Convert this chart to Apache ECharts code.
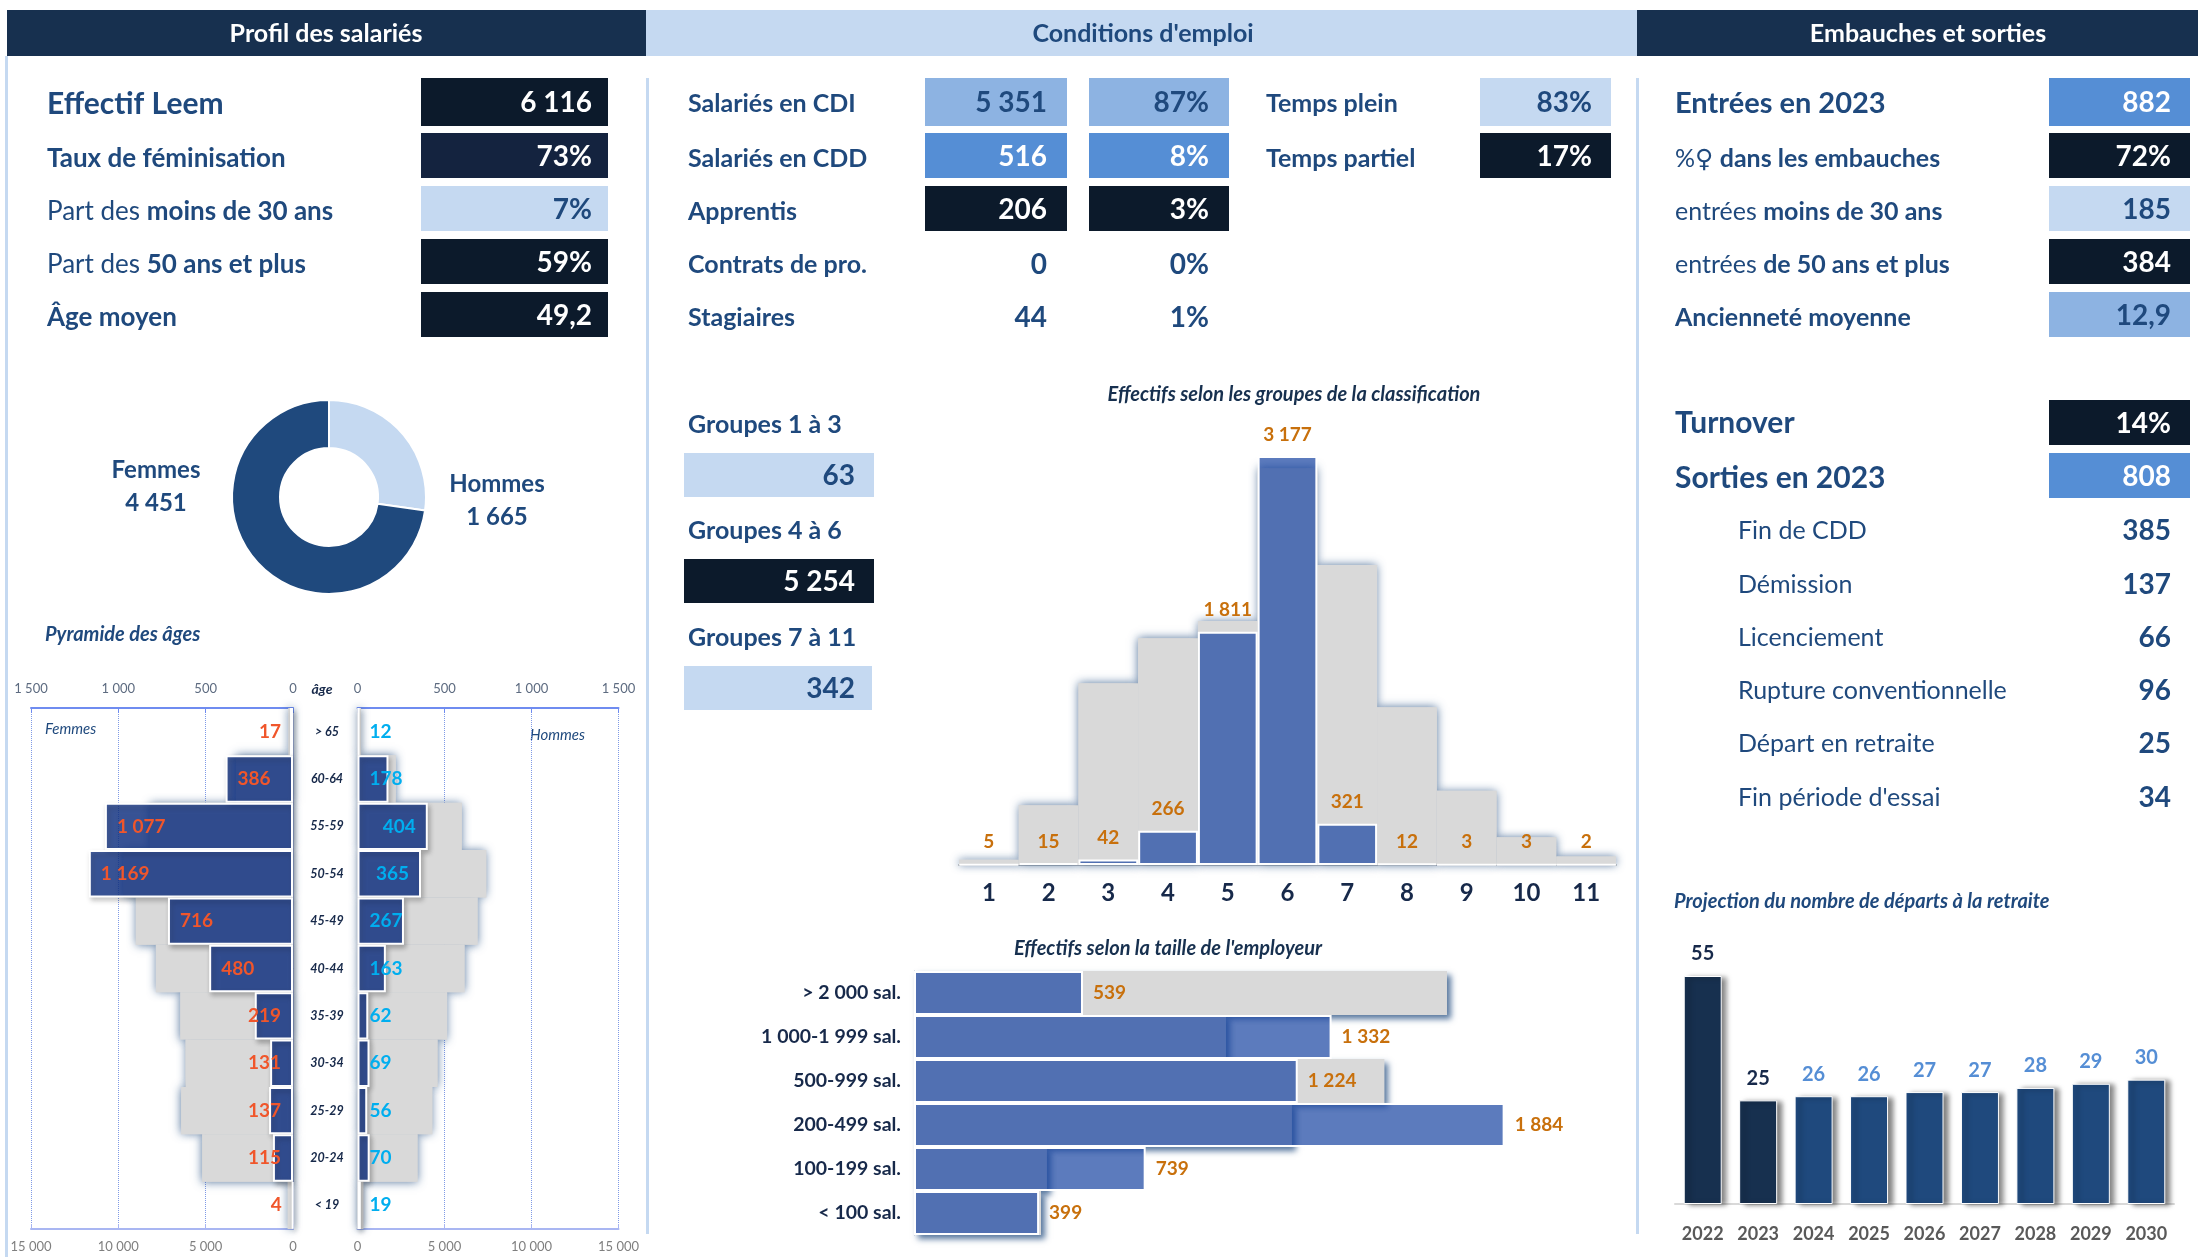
<!DOCTYPE html>
<html><head><meta charset="utf-8">
<style>html,body{margin:0;padding:0;background:#fff}#c{width:2198px;height:1257px}</style>
<script src="https://cdn.jsdelivr.net/npm/echarts@6/dist/echarts.min.js"></script>
</head><body><div id="c"></div>
<script>
// ---- data ----
const headers = ['Profil des salariés', "Conditions d'emploi", 'Embauches et sorties'];
const profilLabels = ['Effectif Leem', 'Taux de féminisation', ['Part des ', 'moins de 30 ans'], ['Part des ', '50 ans et plus'], 'Âge moyen'];
const profilValues = ['6 116', '73%', '7%', '59%', '49,2'];
const contratLabels = ['Salariés en CDI', 'Salariés en CDD', 'Apprentis', 'Contrats de pro.', 'Stagiaires'];
const contratEffectifs = ['5 351', '516', '206', '0', '44'];
const contratParts = ['87%', '8%', '3%', '0%', '1%'];
const tempsLabels = ['Temps plein', 'Temps partiel'];
const tempsValues = ['83%', '17%'];
const groupeLabels = ['Groupes 1 à 3', 'Groupes 4 à 6', 'Groupes 7 à 11'];
const groupeValues = ['63', '5 254', '342'];
const embaucheLabels = ['Entrées en 2023', ['%♀ ', 'dans les embauches'], ['entrées ', 'moins de 30 ans'], ['entrées ', 'de 50 ans et plus'], 'Ancienneté moyenne'];
const embaucheValues = ['882', '72%', '185', '384', '12,9'];
const sortieHeadLabels = ['Turnover', 'Sorties en 2023'];
const sortieHeadValues = ['14%', '808'];
const sortieLabels = ['Fin de CDD', 'Démission', 'Licenciement', 'Rupture conventionnelle', 'Départ en retraite', "Fin période d'essai"];
const sortieValues = ['385', '137', '66', '96', '25', '34'];

const sexeNames = ['Hommes', 'Femmes'];
const sexeValues = [1665, 4451];

const ages = ['> 65', '60-64', '55-59', '50-54', '45-49', '40-44', '35-39', '30-34', '25-29', '20-24', '< 19'];
const femmesLeem = [17, 386, 1077, 1169, 716, 480, 219, 131, 137, 115, 4];
const hommesLeem = [12, 178, 404, 365, 267, 163, 62, 69, 56, 70, 19];
const femmesBranche = [260, 3260, 8200, 9700, 9000, 7850, 6450, 6150, 6400, 5200, 300];
const hommesBranche = [200, 2200, 6000, 7400, 6900, 6150, 5150, 4600, 4300, 3450, 330];
const pyrTop = [0, 500, 1000, 1500];
const pyrBottom = [0, 5000, 10000, 15000];

const groupes = ['1', '2', '3', '4', '5', '6', '7', '8', '9', '10', '11'];
const groupesLeem = [5, 15, 42, 266, 1811, 3177, 321, 12, 3, 3, 2];
const groupesBranche = [380, 4380, 13340, 16630, 17900, 29110, 22000, 11570, 5440, 2030, 630];

const tailles = ['> 2 000 sal.', '1 000-1 999 sal.', '500-999 sal.', '200-499 sal.', '100-199 sal.', '< 100 sal.'];
const taillesLeem = [539, 1332, 1224, 1884, 739, 399];
const taillesBranche = [34000, 19900, 30000, 24100, 8470, 8100];

const annees = ['2022', '2023', '2024', '2025', '2026', '2027', '2028', '2029', '2030'];
const retraites = [55, 25, 26, 26, 27, 27, 28, 29, 30];

// ---- styles ----
const F = 'Lato, "DejaVu Sans", sans-serif';
const BLUE = '#1f497d', NAVY = '#17304f', INK = '#0c1a2b', MID = '#558ed5', SOFT = '#8db3e2', PALE = '#c5d9f1';
const ORANGE = '#c8700c', DARKTXT = '#17294a';
const fmt = v => String(v).replace(/\B(?=(\d{3})+(?!\d))/g, ' ');
const g = [];
const rect = (x, y, w, h, fill) => g.push({type: 'rect', silent: true, shape: {x, y, width: w, height: h}, style: {fill}});
const txt = (x, y, t, o = {}) => g.push({type: 'text', silent: true, x, y, style: Object.assign({
  text: t, fontFamily: F, fontSize: 24, fontWeight: 700, fill: BLUE, align: 'left', verticalAlign: 'middle'}, o)});
const label = (x, y, t, size) => {
  if (Array.isArray(t)) {
    txt(x, y, '{r|' + t[0] + '}{b|' + t[1] + '}', {rich: {
      r: {fontFamily: F, fontSize: size, fontWeight: 400, fill: BLUE},
      b: {fontFamily: F, fontSize: size, fontWeight: 700, fill: BLUE}}});
  } else txt(x, y, t, {fontSize: size});
};
const box = (x, y, w, h, fill, v, tc, size, rx) => {
  rect(x, y, w, h, fill);
  txt(rx, y + h / 2 + 1, v, {fill: tc, fontSize: size, align: 'right'});
};

// headers and rules
rect(7, 10, 639, 46, NAVY); rect(646, 10, 991, 46, PALE); rect(1637, 10, 561, 46, NAVY);
txt(326, 34, headers[0], {fill: '#fff', fontSize: 25, align: 'center'});
txt(1143, 34, headers[1], {fill: BLUE, fontSize: 25, align: 'center'});
txt(1928, 34, headers[2], {fill: '#fff', fontSize: 25, align: 'center'});
rect(5, 56, 3, 1201, PALE); rect(646, 78, 3, 1156, PALE); rect(1636, 78, 3, 1156, PALE);

// rows
const rowY = [78, 133, 186, 239, 292], rowH = [48, 45, 45, 45, 45];
const textY = [104, 159, 212, 265, 318];
const profilFill = [INK, '#14233f', PALE, INK, INK], profilTxt = ['#fff', '#fff', BLUE, '#fff', '#fff'];
profilLabels.forEach((t, i) => {
  label(47, textY[i], t, i === 0 ? 30 : 26);
  box(421, rowY[i], 187, rowH[i], profilFill[i], profilValues[i], profilTxt[i], 28, 592);
});
const cFill = [SOFT, MID, INK], cTxt = [BLUE, '#fff', '#fff'];
contratLabels.forEach((t, i) => {
  label(688, textY[i], t, 25);
  if (i < 3) {
    box(925, rowY[i], 142, rowH[i], cFill[i], contratEffectifs[i], cTxt[i], 28, 1047);
    box(1089, rowY[i], 140, rowH[i], cFill[i], contratParts[i], cTxt[i], 28, 1209);
  } else {
    txt(1047, textY[i], contratEffectifs[i], {fontSize: 28, align: 'right'});
    txt(1209, textY[i], contratParts[i], {fontSize: 28, align: 'right'});
  }
});
const tFill = [PALE, INK], tTxt = [BLUE, '#fff'];
tempsLabels.forEach((t, i) => {
  label(1266, textY[i], t, 25);
  box(1480, rowY[i], 131, rowH[i], tFill[i], tempsValues[i], tTxt[i], 28, 1592);
});
const grpY = [453, 559, 666], grpTextY = [425, 531, 638], gFill = [PALE, INK, PALE], gTxt = [BLUE, '#fff', BLUE];
groupeLabels.forEach((t, i) => {
  label(688, grpTextY[i], t, 25);
  box(684, grpY[i], i === 2 ? 188 : 190, 44, gFill[i], groupeValues[i], gTxt[i], 28, 855);
});
const eFill = [MID, INK, PALE, INK, SOFT], eTxt = ['#fff', '#fff', BLUE, '#fff', BLUE];
embaucheLabels.forEach((t, i) => {
  label(1675, textY[i], t, i === 0 ? 29 : 25);
  box(2049, rowY[i], 141, rowH[i], eFill[i], embaucheValues[i], eTxt[i], 28, 2171);
});
const shY = [400, 453], shT = [423, 478], shF = [INK, MID];
sortieHeadLabels.forEach((t, i) => {
  label(1675, shT[i], t, 30);
  box(2049, shY[i], 141, 45, shF[i], sortieHeadValues[i], '#fff', 28, 2171);
});
const sY = [531, 585, 638, 691, 744, 798];
sortieLabels.forEach((t, i) => {
  txt(1738, sY[i], t, {fontSize: 25, fontWeight: 400});
  txt(2171, sY[i], sortieValues[i], {fontSize: 28, align: 'right'});
});

// chart captions
const cap = {fontStyle: 'italic', fontSize: 20};
txt(45, 635, 'Pyramide des âges', cap);
txt(322, 689, 'âge', {fontStyle: 'italic', fontSize: 14, align: 'center', fill: '#17294a'});
txt(45, 729, 'Femmes', {fontStyle: 'italic', fontSize: 15, fontWeight: 400});
txt(530, 735, 'Hommes', {fontStyle: 'italic', fontSize: 15, fontWeight: 400});
txt(1294, 395, 'Effectifs selon les groupes de la classification', {fontStyle: 'italic', fontSize: 20, align: 'center', fill: NAVY});
txt(1168, 949, "Effectifs selon la taille de l'employeur", {fontStyle: 'italic', fontSize: 20, align: 'center', fill: NAVY});
txt(1674, 902, 'Projection du nombre de départs à la retraite', cap);

// ---- chart helpers ----
const GRAY = '#d9d9d9';
const HALO = {shadowBlur: 9, shadowColor: 'rgba(31,73,125,.75)'};
const barCommon = {type: 'bar', barWidth: '100%', barGap: '-100%', clip: false, silent: true};
const layers = (ax, data, haloExtra, blue, lab, values) => {
  const axes = typeof ax === 'function' ? ax : null;
  return [
    Object.assign({}, barCommon, ax.gray, {z: 1, data, itemStyle: Object.assign({color: GRAY}, HALO, haloExtra)}),
    Object.assign({}, barCommon, ax.gray, {z: 2, data, itemStyle: {color: GRAY}}),
    Object.assign({}, barCommon, ax.blue, {z: 3, data: values, itemStyle: blue, label: lab})
  ];
};
const blueA = {color: 'rgba(25,69,162,.71)', borderColor: '#fff', borderWidth: 2};
const blueP = {color: 'rgba(15,50,135,.78)', borderColor: '#fff', borderWidth: 2,
  shadowBlur: 5, shadowOffsetX: 2, shadowOffsetY: 3, shadowColor: 'rgba(0,0,0,.3)'};
const tickCol = '#5d6b80';
const pyrAxis = (gridIndex, inverse, position, max, ticks, lineCol, split) => ({
  type: 'value', gridIndex, inverse, position, min: 0, max, interval: max / 3,
  axisLine: {show: true, onZero: false, lineStyle: {color: lineCol, width: position === 'top' ? 2 : 2}},
  axisTick: {show: true, inside: true, length: 5, lineStyle: {color: lineCol}},
  axisLabel: {show: true, fontFamily: F, fontSize: 13, color: position === 'top' ? tickCol : '#7f7f7f', margin: position === 'top' ? 13 : 11,
    formatter: v => fmt(v), customValues: ticks, showMinLabel: true, showMaxLabel: true},
  splitLine: {show: split, lineStyle: {color: '#7f9ae6', width: 1, type: 'dotted'}}
});
const ageLabels = (arr, col, side) => {
  return arr.map(v => {
    const large = side === 'L' ? v >= 300 : v >= 300;
    const pos = side === 'L' ? (large ? 'insideLeft' : 'insideRight') : (v === 365 || v === 404 ? 'insideRight' : 'insideLeft');
    return {value: v, label: {show: true, position: pos, distance: 12, color: col, fontFamily: F, fontWeight: 700, fontSize: 19, formatter: p => fmt(p.value)}};
  });
};

const option = {
  animation: false,
  textStyle: {fontFamily: F},
  graphic: {elements: g},
  grid: [
    {left: 31, width: 262, top: 708, height: 521},
    {left: 357.5, width: 261, top: 708, height: 521},
    {left: 959, width: 657, top: 456, height: 409},
    {left: 914, width: 627, top: 971, height: 264},
    {left: 1675, width: 499, top: 976, height: 228}
  ],
  xAxis: [
    pyrAxis(0, true, 'top', 1500, pyrTop, '#6f8cf0', true),
    pyrAxis(0, true, 'bottom', 15000, pyrBottom, '#a9b6f2', false),
    pyrAxis(1, false, 'top', 1500, pyrTop, '#6f8cf0', true),
    pyrAxis(1, false, 'bottom', 15000, pyrBottom, '#a9b6f2', false),
    {type: 'category', gridIndex: 2, data: groupes,
      axisLine: {lineStyle: {color: '#bfbfbf', width: 2}}, axisTick: {show: false},
      axisLabel: {fontFamily: F, fontSize: 24, fontWeight: 700, color: DARKTXT, margin: 16}},
    {type: 'value', gridIndex: 3, min: 0, max: 2000, show: false},
    {type: 'value', gridIndex: 3, min: 0, max: 40000, show: false},
    {type: 'category', gridIndex: 4, data: annees,
      axisLine: {lineStyle: {color: '#d9d9d9', width: 2}}, axisTick: {show: false},
      axisLabel: {fontFamily: F, fontSize: 18, fontWeight: 700, color: '#595959', margin: 21}}
  ],
  yAxis: [
    {type: 'category', gridIndex: 0, data: ages, inverse: true, position: 'right',
      axisLine: {show: true, onZero: false, lineStyle: {color: '#c9cff2'}}, axisTick: {show: false},
      axisLabel: {fontFamily: F, fontSize: 12.5, fontStyle: 'italic', fontWeight: 700, color: DARKTXT, align: 'center', margin: 34}},
    {type: 'category', gridIndex: 1, data: ages, inverse: true,
      axisLine: {show: true, onZero: false, lineStyle: {color: '#c9cff2'}}, axisTick: {show: false}, axisLabel: {show: false}},
    {type: 'value', gridIndex: 2, min: 0, max: 3177, show: false},
    {type: 'value', gridIndex: 2, min: 0, max: 30000, show: false},
    {type: 'category', gridIndex: 3, data: tailles, inverse: true,
      axisLine: {show: true, onZero: false, lineStyle: {color: '#a6afc4'}}, axisTick: {show: false},
      axisLabel: {fontFamily: F, fontSize: 19.5, fontWeight: 700, color: DARKTXT, margin: 13}},
    {type: 'value', gridIndex: 4, min: 0, max: 55, show: false}
  ],
  series: [
    {type: 'pie', silent: true, center: [329, 497], radius: [49, 97], startAngle: 90, clockwise: true,
      data: sexeNames.map((n, i) => ({name: n, value: sexeValues[i], itemStyle: {color: i === 0 ? PALE : BLUE}})),
      itemStyle: {borderColor: '#fff', borderWidth: 2},
      label: {show: true, position: 'outside', formatter: p => p.name + '\n' + fmt(p.value), fontFamily: F, fontWeight: 700, fontSize: 24, lineHeight: 33, color: BLUE, align: 'center'},
      labelLine: {show: false},
      labelLayout: p => p.dataIndex === 0 ? {x: 497, y: 501, align: 'center', verticalAlign: 'middle'} : {x: 156, y: 487, align: 'center', verticalAlign: 'middle'}},
    ...layers({gray: {xAxisIndex: 1, yAxisIndex: 0}, blue: {xAxisIndex: 0, yAxisIndex: 0}}, femmesBranche, {}, blueP, undefined, ageLabels(femmesLeem, '#f0562b', 'L')),
    ...layers({gray: {xAxisIndex: 3, yAxisIndex: 1}, blue: {xAxisIndex: 2, yAxisIndex: 1}}, hommesBranche, {}, blueP, undefined, ageLabels(hommesLeem, '#00aeef', 'R')),
    ...layers({gray: {xAxisIndex: 4, yAxisIndex: 3}, blue: {xAxisIndex: 4, yAxisIndex: 2}}, groupesBranche, {}, blueA,
      {show: true, position: 'top', distance: 12, color: ORANGE, fontFamily: F, fontWeight: 700, fontSize: 19, formatter: p => fmt(p.value)}, groupesLeem),
    ...layers({gray: {xAxisIndex: 6, yAxisIndex: 4}, blue: {xAxisIndex: 5, yAxisIndex: 4}}, taillesBranche,
      {shadowOffsetX: 4, shadowOffsetY: 4, shadowBlur: 6}, blueA,
      {show: true, position: 'right', distance: 10, color: ORANGE, fontFamily: F, fontWeight: 700, fontSize: 19, formatter: p => fmt(p.value)}, taillesLeem),
    {type: 'bar', xAxisIndex: 7, yAxisIndex: 5, barWidth: 38, clip: false, silent: true,
      data: retraites.map((v, i) => ({value: v,
        itemStyle: {color: i < 2 ? NAVY : BLUE, borderColor: '#fff', borderWidth: 1, shadowBlur: 5, shadowOffsetX: 5, shadowOffsetY: 1, shadowColor: 'rgba(0,0,0,.5)'},
        label: {color: i < 2 ? DARKTXT : MID}})),
      label: {show: true, position: 'top', distance: 12, fontFamily: F, fontWeight: 700, fontSize: 20}}
  ]
};
echarts.init(document.getElementById('c')).setOption(option);
</script></body></html>
